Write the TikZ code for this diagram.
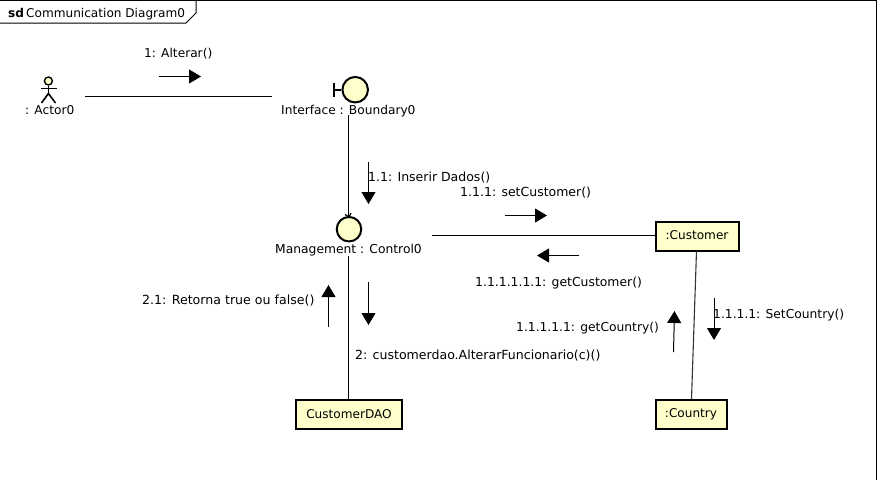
\documentclass[tikz,border=0pt]{standalone}
\usepackage{fontspec}
\setmainfont{DejaVu Sans}
\usetikzlibrary{arrows.meta}
\definecolor{umlfill}{RGB}{255,255,204}
\tikzset{
  x=1pt,y=-1pt,
  lbl/.style={inner sep=0pt,font=\fontsize{#1}{14}\selectfont,text=black,anchor=base west},
  lbl/.default=12.1,
  clsbox/.style={draw=black,line width=2pt,fill=umlfill,inner sep=0pt,minimum height=29pt,font=\fontsize{12.1}{14}\selectfont,text=black},
  link/.style={draw=black,line width=1pt},
  msg/.style={draw=black,line width=1pt,-{Triangle[length=12pt,width=14pt]}},
  round1/.style={draw=black,line width=2pt,fill=umlfill},
}
\begin{document}
\begin{tikzpicture}
\useasboundingbox (0,0) rectangle (880,480);
% frame
\draw[black,line width=1.3pt] (876.5,479.9) -- (876.5,0.5) -- (0,0.5);
\draw[black,line width=1pt] (0,23) -- (186,23) -- (196,13) -- (196,0.5);
\node[inner sep=0pt,anchor=base west,font=\bfseries\fontsize{12.1}{14}\selectfont] (sd) at (8,17) {sd};
\node[lbl,anchor=base west] (title) at (26,17) {Communication Diagram0};
% actor
\coordinate (acthead) at (48.4,81);
\coordinate (actneck) at (48.4,85.5);
\coordinate (acthip) at (48.4,93.5);
\draw[black,line width=1.6pt] (actneck) -- (acthip);
\draw[black,line width=1.6pt] (40.5,88.5) -- (56.5,88.5);
\draw[black,line width=1.6pt] (41.5,103) -- (acthip) -- (55.5,103);
\draw[black,line width=1.4pt,fill=umlfill] (acthead) circle (4pt);
\node[lbl=12.2] (actor) at (25,114) {: Actor0};
% boundary
\node[circle,round1,minimum size=25.5pt,inner sep=0pt] (bnd) at (355.2,89.7) {};
\draw[black,line width=2pt] (bnd.west) -- (333.5,89.7);
\draw[black,line width=2pt] (333.5,82.7) -- (333.5,97.3);
\node[lbl=12.2] (bndl) at (281,114) {Interface : Boundary0};
% control
\node[circle,round1,minimum size=24.5pt,inner sep=0pt] (ctl) at (349,229.2) {};
\draw[black,line width=1.2pt] (345,214.5) -- (349,217) -- (351,213);
\node[lbl=12.3] (ctll) at (275,253) {Management : Control0};
% boxes
\node[clsbox,minimum width=83pt] (cust) at (697,236) {\raisebox{2pt}{:Customer}};
\node[clsbox,minimum width=71pt] (ctry) at (691,414.7) {\raisebox{2pt}{:Country}};
\node[clsbox,minimum width=105.5pt] (dao) at (349,414.7) {\raisebox{2pt}{CustomerDAO}};
% links
\coordinate (al) at (85,96.5); \coordinate (ar) at (272,96.5);
\draw[link] (al) -- (ar);
\coordinate (b1) at (348.5,115);
\draw[link] (b1) -- (348.5,217);
\coordinate (c1) at (432,235.5);
\draw[link] (c1) -- (c1 -| cust.west);
\coordinate (c2) at (348.5,256);
\draw[link] (c2) -- (dao.north -| c2);
\draw[line width=1.1pt,black!80] (696.5,251) -- (691.5,399);
% messages
\draw[msg] (159,76.5) -- (201,76.5);
\draw[msg] (368.5,162) -- (368.5,204);
\draw[msg] (505,215.5) -- (547,215.5);
\draw[msg] (579,255.5) -- (537,255.5);
\draw[msg] (368.5,282) -- (368.5,325);
\draw[msg] (328.5,327) -- (328.5,285);
\draw[msg] (673.5,352) -- (674.5,311);
\draw[msg] (714,298) -- (714,340);
% labels
\node[lbl=12.2] (m1) at (144,57) {1: Alterar()};
\node[lbl=12.5] (m2) at (368,181) {1.1: Inserir Dados()};
\node[lbl=12.5] (m3) at (460,196) {1.1.1: setCustomer()};
\node[lbl=12.4] (m4) at (475,286) {1.1.1.1.1.1: getCustomer()};
\node[lbl=12.6] (m5) at (142,304) {2.1: Retorna true ou false()};
\node[lbl=12.3] (m6) at (516,331) {1.1.1.1.1: getCountry()};
\node[lbl=12.3] (m7) at (713,318) {1.1.1.1: SetCountry()};
\node[lbl=12.55] (m8) at (355,359) {2: customerdao.AlterarFuncionario(c)()};
\end{tikzpicture}
\end{document}
